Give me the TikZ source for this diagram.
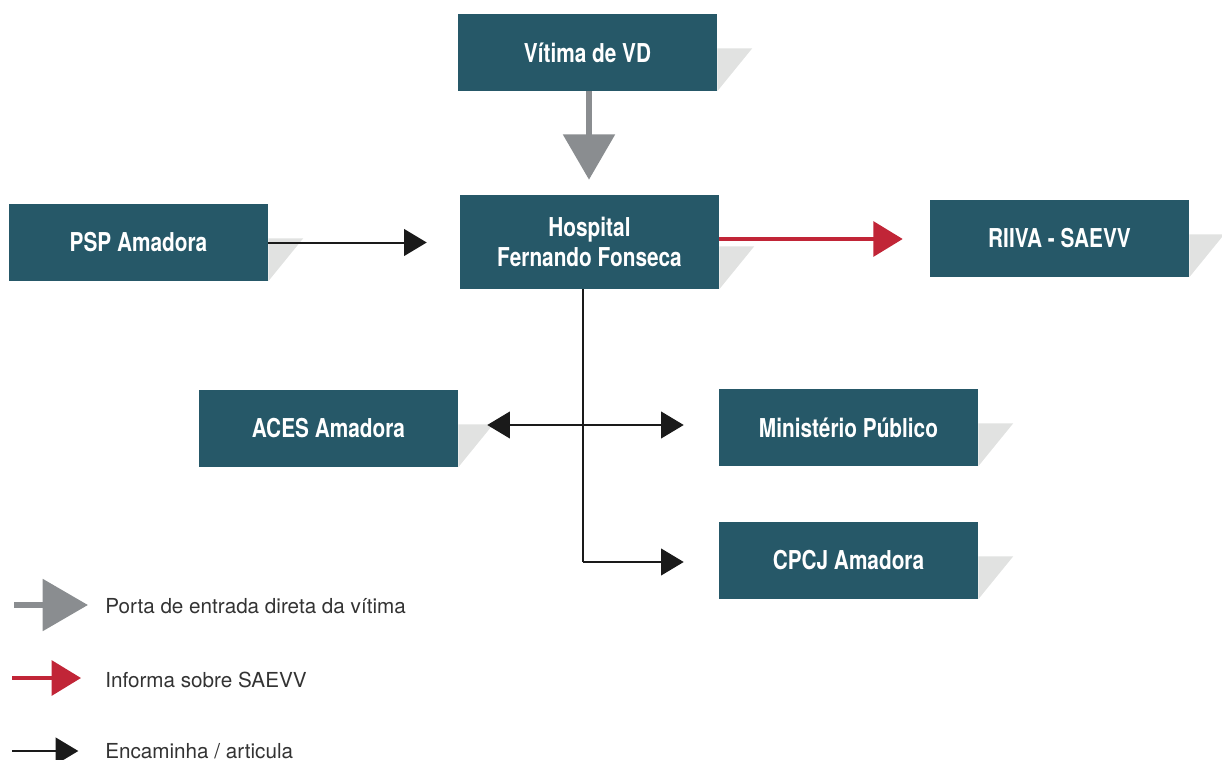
\documentclass[tikz,border=0pt]{standalone}
\usepackage{fontspec}
\setmainfont{TeX Gyre Heros}
\newfontfamily\condfont[FakeStretch=0.8]{TeX Gyre Heros}
\usetikzlibrary{arrows.meta}
\definecolor{boxteal}{HTML}{265868}
\definecolor{shadowgray}{HTML}{E1E2E1}
\definecolor{entrygray}{HTML}{8A8D90}
\definecolor{informred}{HTML}{C12537}
\definecolor{linkblack}{HTML}{1A1A1A}
\definecolor{legendtext}{HTML}{333333}
\tikzset{
  entity/.style={fill=boxteal, text=white, minimum width=194.25pt, minimum height=57.75pt,
    inner sep=0pt, align=center, font=\condfont\bfseries\fontsize{19.5}{23}\selectfont},
  entry/.style={draw=entrygray, line width=5pt, -{Triangle[length=34pt,width=38pt]}},
  inform/.style={draw=informred, line width=3pt, -{Triangle[length=22pt,width=26pt]}},
  link/.style={draw=linkblack, line width=1.5pt, -{Triangle[length=17pt,width=20pt]}},
  legend/.style={anchor=base west, inner sep=0pt, text=legendtext, font=\fontsize{15.5}{18}\selectfont}
}
\begin{document}
\begin{tikzpicture}[x=0.75pt,y=-0.75pt]
\useasboundingbox (0,0) rectangle (1222,760);
% boxes
\node[entity] (vitima) at (587.5,52.5) {Vítima de VD};
\node[entity, minimum height=70.5pt] (hosp) at (589.5,242) {Hospital\\Fernando Fonseca};
\node[entity] (psp) at (138.5,242.5) {PSP Amadora};
\node[entity] (riiva) at (1059.5,238.5) {RIIVA - SAEVV};
\node[entity] (aces) at (328.5,428.5) {ACES Amadora};
\node[entity] (mp) at (848.5,427.5) {Ministério Público};
\node[entity] (cpcj) at (848.5,560.5) {CPCJ Amadora};
% shadows
\foreach \n in {vitima,hosp,psp,riiva,aces,mp,cpcj}
  \fill[shadowgray] (\n.south east) -- ++(0,-43) -- ++(35,0) -- cycle;
% arrows
\draw[entry, shorten >=11.25pt] (vitima.south -| 589,0) -- (hosp.north -| 589,0);
\draw[link, shorten >=24.75pt] (psp.east) -- (psp.east -| hosp.west);
\draw[inform, shorten >=20.25pt] (hosp.east |- 0,239) -- (riiva.west |- 0,239);
\coordinate (split) at (583,425);
\coordinate (bend) at (583,562);
\draw[link, -] (hosp.south -| split) -- (bend);
\draw[link, shorten >=26.25pt] (bend) -- (bend -| cpcj.west);
\draw[link, {Triangle[length=17pt,width=20pt]}-{Triangle[length=17pt,width=20pt]},
  shorten <=21.75pt, shorten >=26.25pt] (aces.east |- split) -- (mp.west |- split);
% legend
\node[legend] (legentry) at (105,613) {Porta de entrada direta da vítima};
\node[legend] (leginform) at (105,687) {Informa sobre SAEVV};
\node[legend] (leglink) at (105,758) {Encaminha / articula};
\coordinate (entrytail) at (14,605);
\coordinate (informtail) at (12,678);
\coordinate (linktail) at (12,751);
\draw[entry, shorten >=12.75pt] (entrytail) -- (entrytail -| legentry.west);
\draw[inform, shorten >=18pt] (informtail) -- (informtail -| leginform.west);
\draw[link, shorten >=20pt] (linktail) -- (linktail -| leglink.west);
\end{tikzpicture}
\end{document}
